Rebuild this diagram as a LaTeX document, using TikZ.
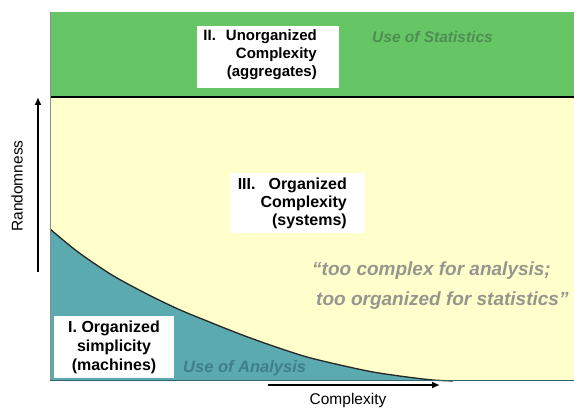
\documentclass[tikz,border=0pt]{standalone}
\usepackage{fontspec}
\setmainfont{Liberation Sans}
\usetikzlibrary{arrows.meta}
\definecolor{grn}{HTML}{66C666}
\definecolor{yel}{HTML}{FFFFCC}
\definecolor{tealc}{HTML}{5BAAB0}
\definecolor{statc}{HTML}{4E8E52}
\definecolor{analc}{HTML}{3F7F88}
\definecolor{quotec}{HTML}{96968E}
\tikzset{
  labeltext/.style={font=\bfseries, inner sep=0pt, text=black},
  whitebox/.style={fill=white},
  axisarrow/.style={line width=2pt, -{Latex[length=8pt,width=7pt]}},
  axistext/.style={inner sep=0pt, font=\fontsize{15.5}{18}\selectfont}
}
\begin{document}
\begin{tikzpicture}[x=1pt,y=-1pt]
\useasboundingbox (0,0) rectangle (574,409);
% regions
\fill[grn] (50,12) rectangle (574,97);
\fill[yel] (50,97) rectangle (574,381);
\fill[tealc] plot[smooth] coordinates {(50,229) (78,252) (112,275) (145,293) (178,309) (212,323) (245,336) (276,347) (307,357) (340,365) (373,372) (407,377) (433,380) (453,381)} -- (50,381) -- cycle;
\draw[line width=1.3pt, black!85] plot[smooth] coordinates {(50,229) (78,252) (112,275) (145,293) (178,309) (212,323) (245,336) (276,347) (307,357) (340,365) (373,372) (407,377) (433,380) (453,381)};
\draw[line width=2pt] (50,97) -- (574,97);
\draw[line width=0.6pt, black!45] (50,12) -- (50,381);
\draw[line width=1pt, analc!80!black] (50,381) -- (574,381);
% white boxes
\fill[whitebox] (197,26) rectangle (339,88);
\fill[whitebox] (230,173) rectangle (365,233);
\fill[whitebox] (54,316) rectangle (174,378);
% labels
\node[labeltext, align=right, font=\bfseries\fontsize{15}{18}\selectfont, anchor=east] (u) at (317,55) {II.\hspace{10pt}Unorganized\\Complexity\\(aggregates)};
\node[labeltext, align=right, font=\bfseries\fontsize{16}{18}\selectfont, anchor=east] (o) at (347,203) {III.\hspace{13pt}Organized\\Complexity\\(systems)};
\node[labeltext, align=center, font=\bfseries\fontsize{16}{19}\selectfont] (s) at (114,347) {I. Organized\\simplicity\\(machines)};
\node[inner sep=0pt, anchor=west, text=statc, font=\bfseries\itshape\fontsize{15.5}{18}\selectfont] (st) at (372,37) {Use of Statistics};
\node[inner sep=0pt, anchor=west, text=analc, font=\bfseries\itshape\fontsize{16.5}{18}\selectfont] (an) at (183,368) {Use of Analysis};
\node[inner sep=0pt, anchor=north west, align=left, text=quotec, font=\bfseries\itshape\fontsize{19}{30}\selectfont] (q) at (312,262) {“too complex for analysis;\\\hspace{4pt}too organized for statistics”};
% axes
\coordinate (ya) at (38,272);
\coordinate (yb) at (38,97);
\coordinate (xa) at (268,385);
\coordinate (xb) at (440,385);
\draw[axisarrow] (ya) -- (yb);
\draw[axisarrow] (xa) -- (xb);
\node[axistext, rotate=90] (rl) at (17,186) {Randomness};
\node[axistext, font=\fontsize{15.5}{18}\selectfont] (cl) at (348,400) {Complexity};
\end{tikzpicture}
\end{document}
